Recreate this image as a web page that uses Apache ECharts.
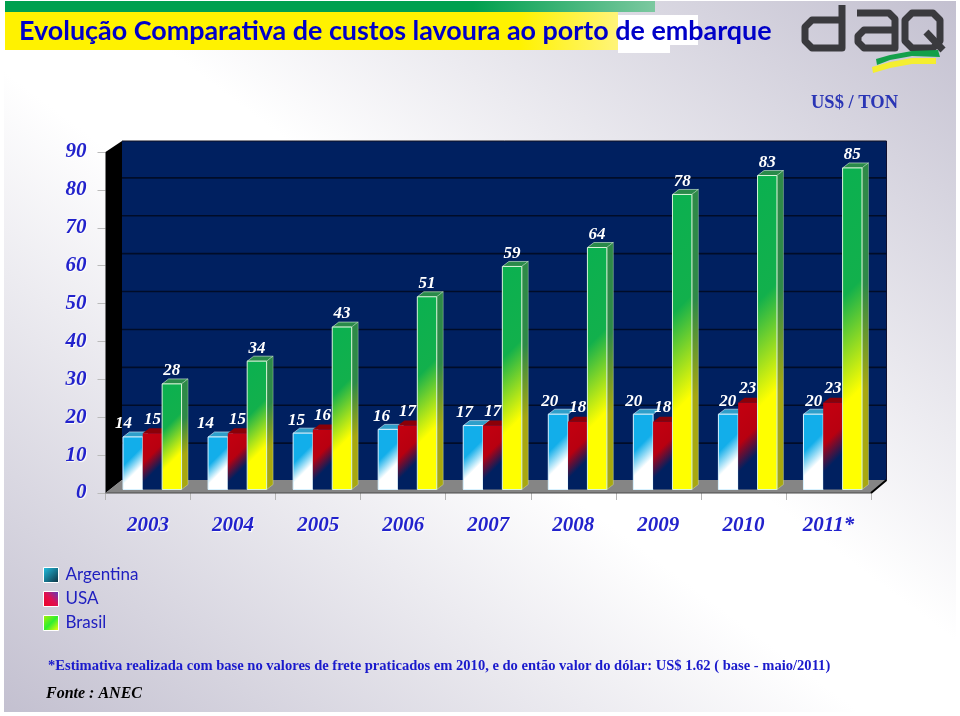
<!DOCTYPE html>
<html>
<head>
<meta charset="utf-8">
<style>html,body{margin:0;padding:0;background:#fff}#c{width:960px;height:716px}</style>
<script src="https://cdn.jsdelivr.net/npm/echarts@6/dist/echarts.min.js"></script>
</head>
<body>
<div id="c"></div>
<script>
const years = ['2003','2004','2005','2006','2007','2008','2009','2010','2011*'];
const argentina = [14,14,15,16,17,20,20,20,20];
const usa = [15,15,16,17,17,18,18,23,23];
const brasil = [28,34,43,51,59,64,78,83,85];
const yTicks = [0,10,20,30,40,50,60,70,80,90];
const argentinaLabelNudge = [-9,-12,-6,-6,-8,-8,-9,0,1];

const BLUE = '#2222cc';
const SERIF = '"Liberation Serif", serif';
const DX = 6.5, DY = 5, BASE_SHIFT = 3.5;

function grad45(x, y, w, h, stops) {
  const L = (w + h) / 2;
  return {type:'linear', x:x, y:y, x2:x+L, y2:y+L, global:true, colorStops:stops};
}
function stops(arr){ return arr.map(a => ({offset:a[0], color:a[1]})); }

function barRender(cfg) {
  return function (params, api) {
    const i = api.value(0), v = api.value(1);
    const top = api.coord([i, v]), base = api.coord([i, 0]);
    const band = api.size([1, 0])[0];
    const w = band * cfg.width;
    const x = top[0] + band * cfg.offset;
    const yTop = top[1] - BASE_SHIFT + 0.5;
    const yBase = base[1] - BASE_SHIFT;
    const h = yBase - yTop;
    const children = [];
    children.push({type:'polygon', shape:{points:[[x,yTop],[x+w,yTop],[x+w+DX,yTop-DY],[x+DX,yTop-DY]]},
      style:{fill:cfg.topFill, stroke:cfg.edge, lineWidth:cfg.edge?0.6:0}});
    if (cfg.sideStops) {
      children.push({type:'polygon', shape:{points:[[x+w,yTop],[x+w+DX,yTop-DY],[x+w+DX,yBase-DY],[x+w,yBase]]},
        style:{fill:grad45(x+w,yTop-DY,DX,h,stops(cfg.sideStops)), stroke:'rgba(225,240,210,0.6)', lineWidth:0.6}});
    }
    children.push({type:'rect', shape:{x:x,y:yTop,width:w,height:h},
      style:{fill:grad45(x,yTop,w,h,stops(cfg.frontStops)), stroke:cfg.edge, lineWidth:cfg.edge?1:0}});
    const nudge = cfg.nudge ? cfg.nudge[i] : 0;
    children.push({type:'text', z2:10, style:{
      text:String(v), x:x+w/2+cfg.labelDx+nudge, y:yTop-15+cfg.labelDy, align:'center', verticalAlign:'middle',
      fill:'#ffffff', font:'italic bold 17px '+SERIF,
      shadowColor:'rgba(0,20,90,0.9)', shadowBlur:2, shadowOffsetX:1, shadowOffsetY:1}});
    return {type:'group', children:children};
  };
}

function frameRender(params, api) {
  const cs = params.coordSys;
  const L = cs.x, R = cs.x + cs.width;
  const y0 = api.coord([0,0])[1], y90 = api.coord([0,90])[1];
  const bL = L + 16.5, bR = R + 15.5;
  const wallTop = y90 - 11, floorY = y0 - 13;
  const ch = [
    {type:'rect', shape:{x:bL,y:wallTop,width:bR-bL,height:floorY-wallTop}, style:{fill:'#002060'}},
    {type:'polygon', shape:{points:[[L,y90],[bL,wallTop],[bL,floorY],[L,y0]]}, style:{fill:'#000000'}},
    {type:'polygon', shape:{points:[[L,y0],[bL,floorY],[bR,floorY],[R,y0]]}, style:{fill:'#858585'}},
    {type:'line', shape:{x1:L,y1:y0,x2:R,y2:y0}, style:{stroke:'#4a4a4a',lineWidth:1.2}},
    {type:'line', shape:{x1:R,y1:y0,x2:bR,y2:floorY}, style:{stroke:'#000000',lineWidth:2}},
    {type:'line', shape:{x1:bL,y1:wallTop,x2:bR,y2:wallTop}, style:{stroke:'#101020',lineWidth:1}},
    {type:'line', shape:{x1:bR,y1:wallTop,x2:bR,y2:floorY}, style:{stroke:'#101030',lineWidth:1}}
  ];
  yTicks.slice(1,-1).forEach(t => {
    const y = api.coord([0,t])[1] - 12;
    ch.push({type:'line', shape:{x1:bL,y1:y,x2:bR,y2:y}, style:{stroke:'#000c28',lineWidth:1.6}});
  });
  return {type:'group', children:ch};
}

const argFront = [[0,'#12aeea'],[0.4,'#12aeea'],[0.66,'#ffffff'],[1,'#ffffff']];
const usaFront = [[0,'#c40010'],[0.4,'#b80010'],[0.66,'#002060'],[1,'#002060']];
const braFront = [[0,'#0bb050'],[0.38,'#12b04c'],[0.7,'#ffff00'],[1,'#ffff00']];
const braSide  = [[0,'#2e8a48'],[0.38,'#2e8a48'],[0.7,'#a8a810'],[1,'#a8a810']];

const makeData = vals => vals.map((v,i) => [i, v]);
const LOGO = {fill:null, stroke:'#3a3a3e', lineWidth:7, lineJoin:'round', lineCap:'butt'};

const option = {
  animation:false,
  backgroundColor:'#ffffff',
  title:[
    {text:'Evolução Comparativa de custos lavoura ao porto de embarque', left:14, top:13,
      textStyle:{fontFamily:'Lato, sans-serif', fontWeight:'bold', fontSize:26.9, color:'#0000c8'}},
    {text:'US$ / TON', left:806, top:89,
      textStyle:{fontFamily:SERIF, fontWeight:'bold', fontSize:18.5, color:'#2a35b5'}},
    {text:'*Estimativa realizada com base no valores de frete praticados em 2010, e do então valor do dólar: US$ 1.62 ( base - maio/2011)', left:43, top:654,
      textStyle:{fontFamily:SERIF, fontWeight:'bold', fontSize:14.55, color:'#1a1acc'}},
    {text:'Fonte : ANEC', left:41, top:681,
      textStyle:{fontFamily:SERIF, fontWeight:'bold', fontStyle:'italic', fontSize:16, color:'#000000'}}
  ],
  legend:{
    orient:'vertical', left:38, top:561.5, itemWidth:15, itemHeight:15, itemGap:7, selectedMode:false,
    textStyle:{fontFamily:'Lato, sans-serif', fontSize:17, color:'#2020c0', padding:[0,0,0,2]},
    data:[
      {name:'Argentina', icon:'rect', itemStyle:{color:{type:'linear',x:0,y:0,x2:1,y2:1,colorStops:stops([[0,'#22c4e6'],[1,'#0c2c3c']])}, borderColor:'#ffffff', borderWidth:1}},
      {name:'USA', icon:'rect', itemStyle:{color:{type:'linear',x:0,y:1,x2:1,y2:0,colorStops:stops([[0,'#f00020'],[0.5,'#e01050'],[1,'#5040c8']])}, borderColor:'#ffffff', borderWidth:1}},
      {name:'Brasil', icon:'rect', itemStyle:{color:{type:'linear',x:0,y:0,x2:1,y2:1,colorStops:stops([[0,'#b0f000'],[0.5,'#30ee30'],[1,'#ffff00']])}, borderColor:'#ffffff', borderWidth:1}}
    ]
  },
  grid:{left:105.5, top:152, width:765.5, height:341, containLabel:false},
  xAxis:{
    type:'category', data:years, boundaryGap:true,
    axisLine:{show:false},
    axisTick:{show:true, length:7, lineStyle:{color:'#b4b4b4'}},
    axisLabel:{margin:22, fontFamily:SERIF, fontStyle:'italic', fontWeight:'bold', fontSize:21, color:BLUE, interval:0,
      textShadowColor:'#ffffff', textShadowBlur:1, textShadowOffsetX:1, textShadowOffsetY:1}
  },
  yAxis:{
    type:'value', min:0, max:90, interval:10,
    axisLine:{show:false},
    axisTick:{show:true, length:8, lineStyle:{color:'#bbbbbb'}},
    splitLine:{show:false},
    axisLabel:{margin:19, fontFamily:SERIF, fontStyle:'italic', fontWeight:'bold', fontSize:21, color:BLUE, padding:[5,0,0,0],
      textShadowColor:'#ffffff', textShadowBlur:1, textShadowOffsetX:1, textShadowOffsetY:1}
  },
  series:[
    {type:'custom', name:'frame', coordinateSystem:'cartesian2d', clip:false, z:1, silent:true,
      data:[[0,0]], encode:{x:0,y:1}, renderItem:frameRender},
    {type:'custom', name:'Argentina', coordinateSystem:'cartesian2d', clip:false, z:2, silent:true,
      data:makeData(argentina), encode:{x:0,y:1},
      renderItem:barRender({offset:-0.294, width:0.232, frontStops:argFront, topFill:'#2f9fca', edge:'#d8f2ff', labelDx:-0.5, labelDy:2, nudge:argentinaLabelNudge})},
    {type:'custom', name:'USA', coordinateSystem:'cartesian2d', clip:false, z:3, silent:true,
      data:makeData(usa), encode:{x:0,y:1},
      renderItem:barRender({offset:-0.062, width:0.228, frontStops:usaFront, topFill:'#8a0008', edge:null, labelDx:0, labelDy:1})},
    {type:'custom', name:'Brasil', coordinateSystem:'cartesian2d', clip:false, z:4, silent:true,
      data:makeData(brasil), encode:{x:0,y:1},
      renderItem:barRender({offset:0.166, width:0.228, frontStops:braFront, sideStops:braSide, topFill:'#2a8a4a', edge:'#d8f5d8', labelDx:0, labelDy:2})}
  ],
  graphic:[
    {type:'rect', z:-10, silent:true, shape:{x:4,y:1,width:952,height:711},
      style:{fill:{type:'linear',x:138,y:813,x2:822,y2:-101,global:true,colorStops:stops([[0,'#c3c0d0'],[0.45,'#ffffff'],[0.55,'#ffffff'],[1,'#c3c0d0']])}}},
    {type:'rect', z:-9, silent:true, shape:{x:5,y:1,width:650,height:11},
      style:{fill:{type:'linear',x:0,y:0,x2:1,y2:0,colorStops:stops([[0,'#00a04e'],[0.72,'#00a04e'],[1,'#7cc8a0']])}}},
    {type:'rect', z:-9, silent:true, shape:{x:618,y:15,width:80,height:30}, style:{fill:'#ffffff'}},
    {type:'rect', z:-9, silent:true, shape:{x:618,y:45,width:52,height:8}, style:{fill:'#ffffff'}},
    {type:'rect', z:-8, silent:true, shape:{x:5,y:12,width:613,height:38},
      style:{fill:{type:'linear',x:0,y:0,x2:1,y2:0,colorStops:stops([[0,'#fff200'],[0.84,'#fff200'],[1,'#fff47a']])}}},
    {type:'polyline', z:-5, silent:true, shape:{points:[[842,5],[842,48],[812,48],[805,41],[805,27],[812,20],[842,20]]}, style:LOGO},
    {type:'polyline', z:-5, silent:true, shape:{points:[[857,13],[889,13],[895,19],[895,48],[864,48],[858,42],[858,36],[864,30],[895,30]]}, style:LOGO},
    {type:'polygon', z:-5, silent:true, shape:{points:[[912,13],[933,13],[940,20],[940,41],[933,48],[912,48],[905,41],[905,20]]}, style:LOGO},
    {type:'line', z:-5, silent:true, shape:{x1:926,y1:32,x2:943,y2:50}, style:{stroke:'#3a3a3e', lineWidth:7}},
    {type:'polygon', z:-4, silent:true, shape:{points:[[876,59],[890,55],[912,51],[938,50],[940,57],[912,56],[890,60],[877,65]]}, style:{fill:'#13a04a'}},
    {type:'polygon', z:-4, silent:true, shape:{points:[[872,67],[890,62],[912,58],[936,58],[936,64],[912,64],[890,68],[873,73]]}, style:{fill:'#f4ee30'}}
  ]
};
const chart = echarts.init(document.getElementById('c'), null, {renderer:'canvas'});
chart.setOption(option);
</script>
</body>
</html>
